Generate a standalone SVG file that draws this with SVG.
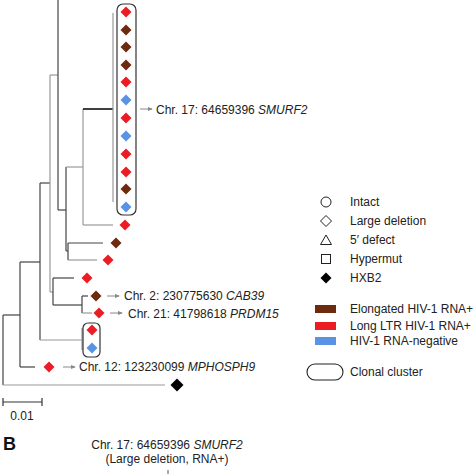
<svg xmlns="http://www.w3.org/2000/svg" xmlns:xlink="http://www.w3.org/1999/xlink" width="474" height="474" viewBox="0 0 474 474">
<style>
.t{font-family:"Liberation Sans",Arial,sans-serif;font-size:12px;fill:#222}
.i{font-style:italic}
.br{fill:none;stroke:#444;stroke-width:1.2}
.bg{fill:none;stroke:#999;stroke-width:1.2}
.ar{stroke:#888;stroke-width:1;marker-end:url(#ah)}
.red{fill:#ec1c24}
.brn{fill:#6e2a0e}
.blu{fill:#5a93e6}
.clu{fill:none;stroke:#333;stroke-width:1.2}
.lg{fill:#fff;stroke:#222;stroke-width:1}
</style>
<defs>
<path id="d" d="M0,-5.5L5.5,0L0,5.5L-5.5,0Z"/>
<marker id="ah" viewBox="0 0 6 6" refX="5" refY="3" markerWidth="5" markerHeight="5" orient="auto"><path d="M0,0.5L6,3L0,5.5Z" fill="#888"/></marker>
</defs>
<rect width="474" height="474" fill="#fff"/>
<g id="connectors">
<!-- root -->
<path class="br" d="M3,315V385"/>
<path class="bg" d="M3,385H165"/>
<path class="br" d="M3,315H20"/>
<path class="br" d="M20,262V367"/>
<path class="br" d="M20,367H35"/>
<path class="br" d="M20,262H40"/>
<path class="br" d="M40,183V340"/>
<path class="bg" d="M40,340H82"/>
<path class="bg" d="M82,328V350"/>
<path class="br" d="M40,183H50"/>
<path class="bg" d="M50,75V292"/>
<path class="bg" d="M50,75H58"/>
<path class="br" d="M58,0V210"/>
<path class="br" d="M58,210H66"/>
<path class="br" d="M66,167V251"/>
<path class="bg" d="M66,167H83"/>
<path class="bg" d="M83,109V225"/>
<path d="M83,109H113" stroke="#111" stroke-width="1.6" fill="none"/>
<path class="bg" d="M113,13V202"/>
<path class="bg" d="M83,225H113"/>
<path class="br" d="M66,251H68"/>
<path class="br" d="M68,243V260"/>
<path class="br" d="M68,243H103"/>
<path class="bg" d="M68,260H97"/>
<path class="bg" d="M50,292H53"/>
<path class="br" d="M53,278V305"/>
<path class="br" d="M53,278H74"/>
<path class="br" d="M53,305H82"/>
<path class="br" d="M82,296V313"/>
<path class="br" d="M82,296H88"/>
<path class="bg" d="M82,313H92"/>
<!-- label arrows -->
<path class="ar" d="M140,109H152"/>
<path class="ar" d="M107,296H119"/>
<path class="ar" d="M110,313H122"/>
<path class="ar" d="M63,367H75"/>
</g>
<g id="cluster-smurf2">
<rect class="clu" x="117" y="4" width="19" height="211" rx="6"/>
<use href="#d" x="126" y="12" class="red"/>
<use href="#d" x="126" y="30" class="brn"/>
<use href="#d" x="126" y="47" class="brn"/>
<use href="#d" x="126" y="65" class="brn"/>
<use href="#d" x="126" y="82" class="red"/>
<use href="#d" x="126" y="100" class="blu"/>
<use href="#d" x="126" y="118" class="red"/>
<use href="#d" x="126" y="136" class="blu"/>
<use href="#d" x="126" y="154" class="red"/>
<use href="#d" x="126" y="172" class="red"/>
<use href="#d" x="126" y="189" class="brn"/>
<use href="#d" x="126" y="207" class="blu"/>
<text class="t" x="156" y="114">Chr. 17: 64659396 <tspan class="i">SMURF2</tspan></text>
</g>
<g id="leaf-1"><use href="#d" x="125" y="225" class="red"/></g>
<g id="leaf-2"><use href="#d" x="116" y="243" class="brn"/></g>
<g id="leaf-3"><use href="#d" x="108" y="260" class="red"/></g>
<g id="leaf-4"><use href="#d" x="87" y="278" class="red"/></g>
<g id="leaf-cab39"><use href="#d" x="96" y="296" class="brn"/><text class="t" x="124" y="300">Chr. 2: 230775630 <tspan class="i">CAB39</tspan></text></g>
<g id="leaf-prdm15"><use href="#d" x="99" y="313" class="red"/><text class="t" x="128" y="318">Chr. 21: 41798618 <tspan class="i">PRDM15</tspan></text></g>
<g id="cluster-2">
<rect class="clu" x="83" y="323" width="17" height="34" rx="5"/>
<use href="#d" x="92" y="330" class="red"/>
<use href="#d" x="92" y="348" class="blu"/>
</g>
<g id="leaf-mphosph9"><use href="#d" x="49" y="367" class="red"/><text class="t" x="79" y="371">Chr. 12: 123230099 <tspan class="i">MPHOSPH9</tspan></text></g>
<g id="leaf-hxb2"><path d="M177,378.5L183.5,385L177,391.5L170.5,385Z" fill="#000"/></g>
<g id="scale">
<path d="M3,402H42M3,398V406M42,398V406" stroke="#333" stroke-width="1.2" fill="none"/>
<text class="t" x="22" y="420" text-anchor="middle" font-size="11">0.01</text>
</g>
<g id="legend">
<circle class="lg" cx="326" cy="202" r="5"/>
<text class="t" x="350" y="206">Intact</text>
<path class="lg" d="M326,215.5L331.5,221L326,226.5L320.5,221Z"/>
<text class="t" x="350" y="225">Large deletion</text>
<path class="lg" d="M326,235L331.5,244.5H320.5Z"/>
<text class="t" x="350" y="244">5′ defect</text>
<rect class="lg" x="321.5" y="254.5" width="9" height="9"/>
<text class="t" x="350" y="263">Hypermut</text>
<path d="M326,272.5L331.5,278L326,283.5L320.5,278Z" fill="#000"/>
<text class="t" x="350" y="282">HXB2</text>
<rect x="315" y="305" width="21" height="8" class="brn"/>
<text class="t" x="350" y="313">Elongated HIV-1 RNA+</text>
<rect x="315" y="322" width="21" height="8" class="red"/>
<text class="t" x="350" y="330">Long LTR HIV-1 RNA+</text>
<rect x="315" y="337" width="21" height="8" class="blu"/>
<text class="t" x="350" y="345">HIV-1 RNA-negative</text>
<rect x="307" y="364" width="36" height="16" rx="8" fill="none" stroke="#222" stroke-width="1.1"/>
<text class="t" x="350" y="376">Clonal cluster</text>
</g>
<g id="panel-b">
<text x="3" y="450" font-family="'Liberation Sans',Arial,sans-serif" font-size="18" font-weight="bold" fill="#111">B</text>
<text class="t" x="167" y="449" text-anchor="middle">Chr. 17: 64659396 <tspan class="i">SMURF2</tspan></text>
<text class="t" x="167" y="463" text-anchor="middle">(Large deletion, RNA+)</text>
<path d="M168,470V474" stroke="#555" stroke-width="1"/>
</g>
</svg>
